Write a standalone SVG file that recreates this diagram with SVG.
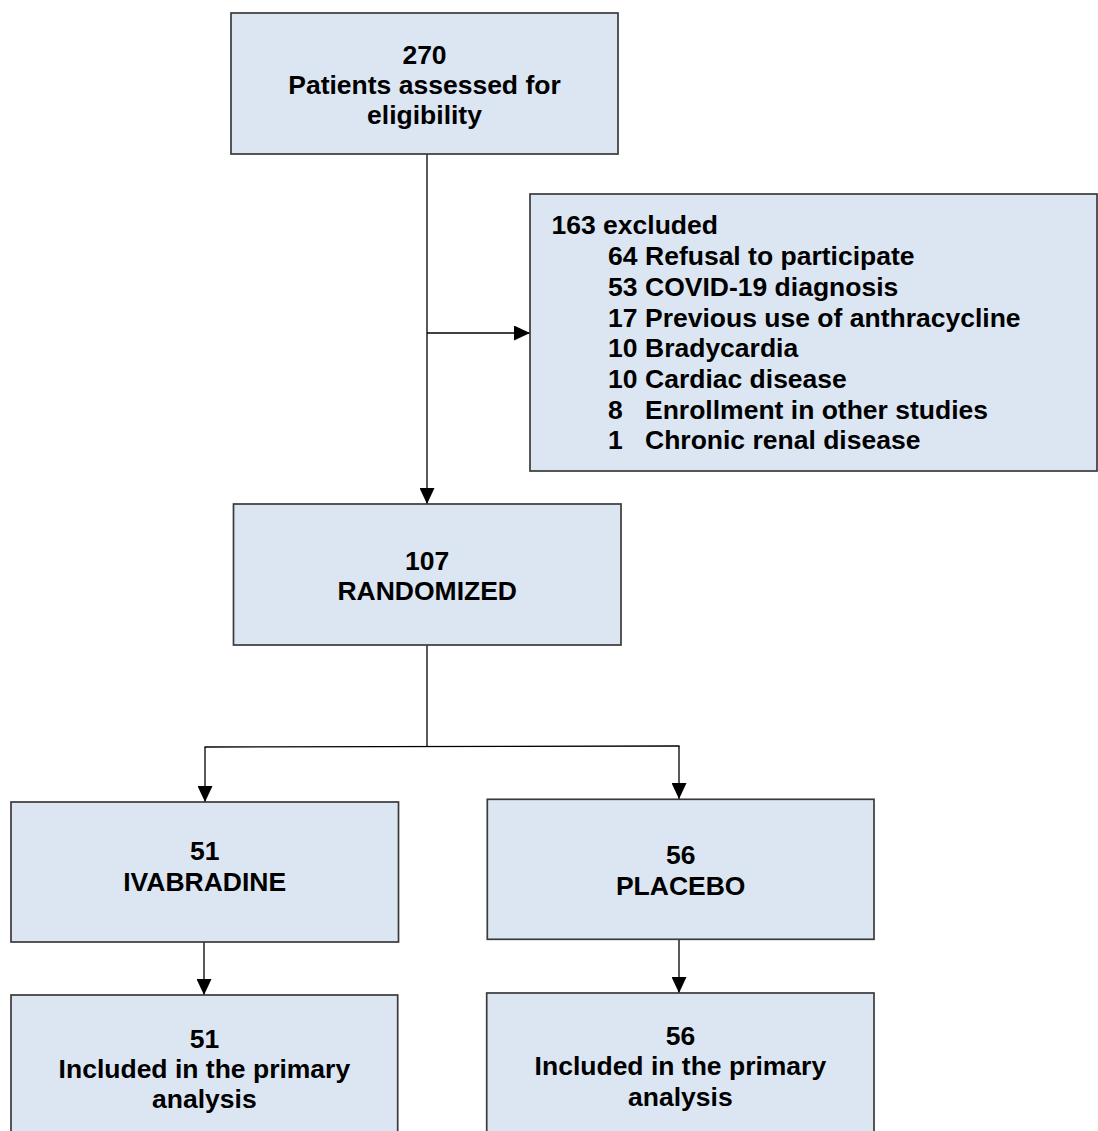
<svg xmlns="http://www.w3.org/2000/svg" width="1098" height="1131" viewBox="0 0 1098 1131">
<style>
.box{fill:#dce6f2;stroke:#3a3a3a;stroke-width:1.7}
.t{font-family:"Liberation Sans",Arial,sans-serif;font-weight:bold;font-size:26.5px;fill:#000}
.c{text-anchor:middle}
.ln{fill:none;stroke:#000;stroke-width:1.3}
</style>
<defs>
<marker id="ah" markerUnits="userSpaceOnUse" markerWidth="16" markerHeight="15" refX="16" refY="7.5" orient="auto" viewBox="0 0 16 15">
<path d="M0,0 L16,7.5 L0,15 Z" fill="#000"/>
</marker>
</defs>
<rect width="1098" height="1131" fill="#fff"/>
<g id="connectors">
<line class="ln" x1="427" y1="154" x2="427" y2="504" marker-end="url(#ah)"/>
<line class="ln" x1="427" y1="333" x2="530" y2="333" marker-end="url(#ah)"/>
<line class="ln" x1="427" y1="645" x2="427" y2="746.5"/>
<line class="ln" x1="204.5" y1="747" x2="679.5" y2="746"/>
<line class="ln" x1="205" y1="747" x2="205" y2="802" marker-end="url(#ah)"/>
<line class="ln" x1="679" y1="746" x2="679" y2="799" marker-end="url(#ah)"/>
<line class="ln" x1="204" y1="942" x2="204" y2="995" marker-end="url(#ah)"/>
<line class="ln" x1="679" y1="939" x2="679" y2="993" marker-end="url(#ah)"/>
</g>
<g id="assessed">
<rect class="box" x="231" y="13" width="387" height="141"/>
<text class="t c" x="424.5" y="63.5">270</text>
<text class="t c" x="424.5" y="93.8">Patients assessed for</text>
<text class="t c" x="424.5" y="124.2">eligibility</text>
</g>
<g id="excluded">
<rect class="box" x="530" y="194" width="567" height="277"/>
<text class="t" x="551.5" y="234.4">163 excluded</text>
<text class="t" y="265.1"><tspan x="608">64</tspan><tspan x="645">Refusal to participate</tspan></text>
<text class="t" y="295.8"><tspan x="608">53</tspan><tspan x="645">COVID-19 diagnosis</tspan></text>
<text class="t" y="326.5"><tspan x="608">17</tspan><tspan x="645">Previous use of anthracycline</tspan></text>
<text class="t" y="357.2"><tspan x="608">10</tspan><tspan x="645">Bradycardia</tspan></text>
<text class="t" y="387.9"><tspan x="608">10</tspan><tspan x="645">Cardiac disease</tspan></text>
<text class="t" y="418.6"><tspan x="608">8</tspan><tspan x="645">Enrollment in other studies</tspan></text>
<text class="t" y="449.3"><tspan x="608">1</tspan><tspan x="645">Chronic renal disease</tspan></text>
</g>
<g id="randomized">
<rect class="box" x="233.5" y="504" width="387.5" height="141"/>
<text class="t c" x="427.2" y="569.5">107</text>
<text class="t c" x="427.2" y="600">RANDOMIZED</text>
</g>
<g id="ivabradine">
<rect class="box" x="11" y="802" width="387.5" height="140"/>
<text class="t c" x="204.7" y="860">51</text>
<text class="t c" x="204.7" y="890.5">IVABRADINE</text>
</g>
<g id="placebo">
<rect class="box" x="487.3" y="799.3" width="386.7" height="140"/>
<text class="t c" x="680.7" y="864">56</text>
<text class="t c" x="680.7" y="894.5">PLACEBO</text>
</g>
<g id="ivabradine-analysis">
<rect class="box" x="11" y="995" width="386.7" height="150"/>
<text class="t c" x="204.4" y="1048.3">51</text>
<text class="t c" x="204.4" y="1078">Included in the primary</text>
<text class="t c" x="204.4" y="1108.3">analysis</text>
</g>
<g id="placebo-analysis">
<rect class="box" x="486.7" y="993" width="387.3" height="150"/>
<text class="t c" x="680.4" y="1045">56</text>
<text class="t c" x="680.4" y="1075.3">Included in the primary</text>
<text class="t c" x="680.4" y="1105.5">analysis</text>
</g>
</svg>
